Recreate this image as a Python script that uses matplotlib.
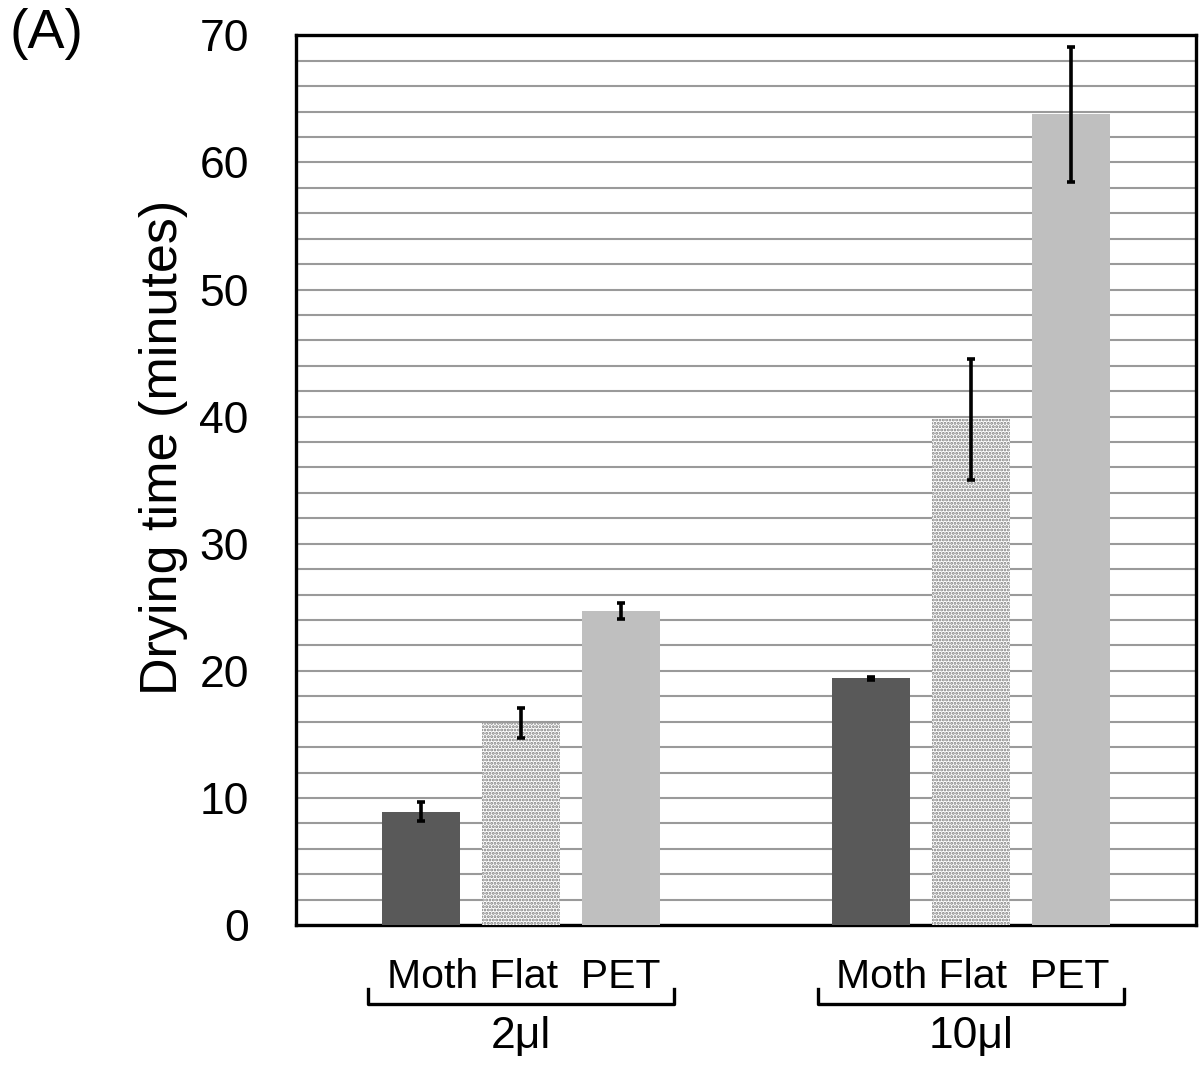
import matplotlib.pyplot as plt
from matplotlib.lines import Line2D
import numpy as np

plt.rcParams['font.family'] = ['Liberation Sans', 'DejaVu Sans']
plt.rcParams['hatch.linewidth'] = 1.4

volumes = ['2\u03bcl', '10\u03bcl']
surfaces = ['Moth', 'Flat', 'PET']
moth = [8.9, 19.4]
moth_err = [0.75, 0.15]
flat = [15.9, 39.8]
flat_err = [1.2, 4.75]
pet = [24.7, 63.8]
pet_err = [0.6, 5.3]

fig = plt.figure(figsize=(12.01, 10.72), dpi=100)
ax = fig.add_axes([0.2465, 0.1371, 0.7493, 0.8299])

x = np.arange(len(volumes))
offset = 0.222
width = 0.172
err_kw = dict(ecolor='black', elinewidth=2.6, capsize=3, capthick=2.6)

ax.bar(x - offset, moth, width, color='#595959', yerr=moth_err,
       error_kw=err_kw, zorder=3)
ax.bar(x, flat, width, color='white', edgecolor='#7a7a7a', linewidth=0,
       hatch='.....', yerr=flat_err, error_kw=err_kw, zorder=3)
ax.bar(x + offset, pet, width, color='#bfbfbf', yerr=pet_err,
       error_kw=err_kw, zorder=3)

ax.set_xlim(-0.5, 1.5)
ax.set_ylim(0, 70)
ax.set_yticks(np.arange(0, 71, 10))
ax.set_yticks(np.arange(0, 71, 2), minor=True)
ax.set_xticks([])
ax.grid(axis='y', which='both', color='#9a9a9a', linewidth=1.5, zorder=0)
ax.tick_params(axis='y', which='both', length=0, labelsize=32, pad=34)
for s in ax.spines.values():
    s.set_linewidth(2.4)
    s.set_color('black')

ax.set_ylabel('Drying time (minutes)', fontsize=37.5)
ax.yaxis.set_label_coords(-0.12, 0.537)

# bracketed group labels under the axis
trans = ax.get_xaxis_transform()
half = 0.341
for xi, vol in zip(x, volumes):
    ax.text(xi + 0.005, -0.058, ' '.join(surfaces[:2]) + '  ' + surfaces[2],
            transform=trans, ha='center', va='center', fontsize=29.5)
    bx = [xi - half, xi - half, xi + half, xi + half]
    by = [-0.072, -0.0885, -0.0885, -0.072]
    ax.add_line(Line2D(bx, by, transform=trans, color='black',
                       linewidth=2.4, clip_on=False))
    ax.text(xi, -0.125, vol, transform=trans, ha='center', va='center',
            fontsize=32)

fig.text(0.008, 0.968, '(A)', fontsize=40, ha='left', va='center')

fig.savefig('out.png', dpi=100)
